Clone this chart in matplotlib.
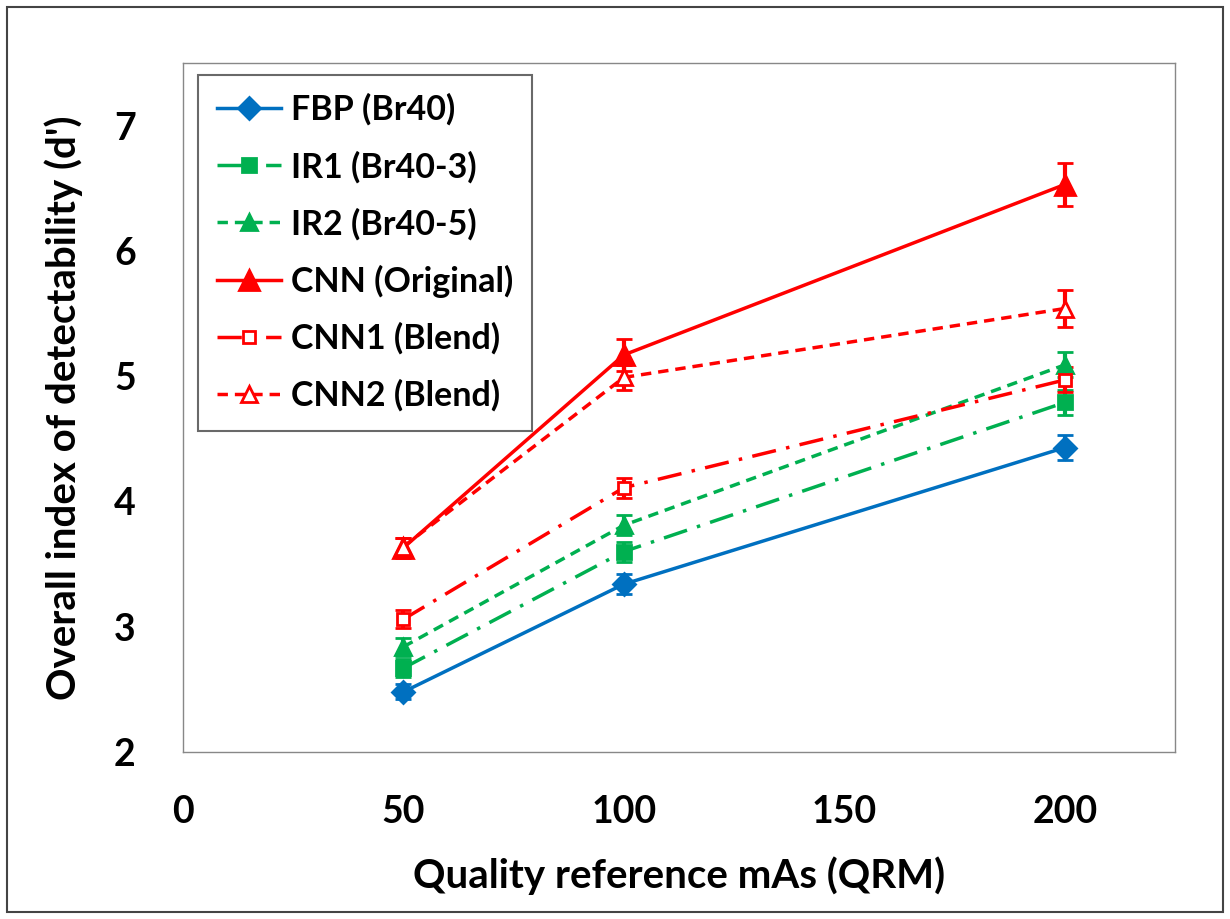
import matplotlib.pyplot as plt
import numpy as np

# data
qrm = [50, 100, 200]
fbp = [2.48, 3.34, 4.43]
fbp_err = [0.06, 0.08, 0.10]
ir1 = [2.67, 3.60, 4.79]
ir1_err = [0.07, 0.08, 0.10]
ir2 = [2.84, 3.81, 5.09]
ir2_err = [0.07, 0.08, 0.10]
cnn = [3.63, 5.17, 6.53]
cnn_err = [0.08, 0.13, 0.17]
cnn1 = [3.06, 4.11, 4.97]
cnn1_err = [0.07, 0.08, 0.10]
cnn2 = [3.64, 4.99, 5.54]
cnn2_err = [0.07, 0.10, 0.15]

BLUE = "#0070C0"
GREEN = "#00B050"
RED = "#FF0000"

plt.rcParams['font.family'] = ['Lato', 'DejaVu Sans']
plt.rcParams['font.weight'] = 'bold'

fig = plt.figure(figsize=(12.3, 9.19), dpi=100)
ax = fig.add_axes([183 / 1230, 1 - 752 / 919, (1175 - 183) / 1230, (752 - 63) / 919])

dashdot = (0, (7, 3, 1, 3))
dashed = (0, (3, 2))

series = [
    ("FBP (Br40)", fbp, fbp_err, BLUE, '-', 'D', BLUE, 11),
    ("IR1 (Br40-3)", ir1, ir1_err, GREEN, dashdot, 's', GREEN, 10),
    ("IR2 (Br40-5)", ir2, ir2_err, GREEN, dashed, '^', GREEN, 11),
    ("CNN (Original)", cnn, cnn_err, RED, '-', '^', RED, 15),
    ("CNN1 (Blend)", cnn1, cnn1_err, RED, dashdot, 's', 'white', 9),
    ("CNN2 (Blend)", cnn2, cnn2_err, RED, dashed, '^', 'white', 12),
]

handles = []
for label, vals, err, col, ls, mk, fc, ms in series:
    eb = ax.errorbar(qrm, vals, yerr=err, color=col, linestyle=ls, linewidth=2.5,
                     marker=mk, markersize=ms, markerfacecolor=fc, markeredgecolor=col,
                     markeredgewidth=2, ecolor=col, elinewidth=3, capsize=6, capthick=3,
                     label=label)
    handles.append(eb.lines[0])

ax.set_xlim(0, 225)
ax.set_ylim(2, 7.5)
ax.set_xticks([0, 50, 100, 150, 200])
ax.set_yticks([2, 3, 4, 5, 6, 7])
ax.tick_params(axis='y', length=0, labelsize=27, pad=34)
ax.tick_params(axis='x', length=0, labelsize=27, pad=31)
for s in ax.spines.values():
    s.set_color('#888888')
    s.set_linewidth(1)

ax.set_xlabel("Quality reference mAs (QRM)", fontsize=29, fontweight='bold', labelpad=20)
ax.set_ylabel("Overall index of detectability (d')", fontsize=29, fontweight='bold', labelpad=22)

leg = ax.legend(handles=handles, labels=[s[0] for s in series],
                loc='upper left', bbox_to_anchor=(0.015, 0.983), fontsize=24.5,
                frameon=True, fancybox=False, edgecolor='#444444', handlelength=1.9,
                labelspacing=0.72, borderpad=0.55, handletextpad=0.3, borderaxespad=0)
leg.get_frame().set_linewidth(1.5)

# outer border around the whole figure
fig.patches.append(plt.Rectangle((0.006, 0.008), 0.988, 0.984, transform=fig.transFigure,
                                 fill=False, edgecolor='#444444', linewidth=1.5))

plt.savefig("out.png", dpi=100)
